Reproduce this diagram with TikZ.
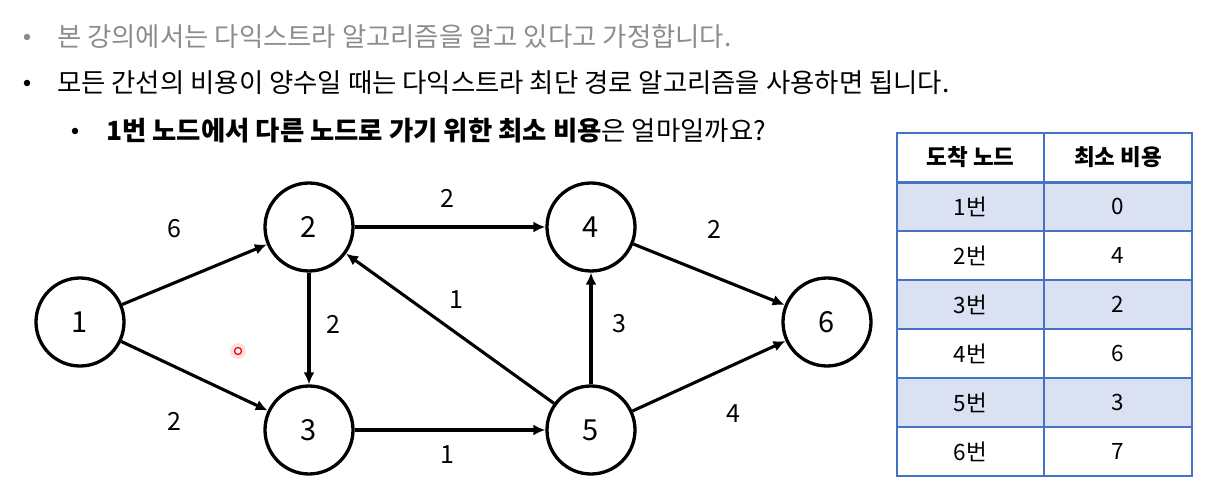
\documentclass[tikz,border=0pt]{standalone}
\usepackage{fontspec}
\setmainfont{Noto Sans CJK KR}
\usepackage{xcolor}
\definecolor{greytxt}{RGB}{140,140,140}
\definecolor{tblline}{RGB}{68,114,196}
\definecolor{rowblue}{RGB}{217,225,242}
\usepackage{tikz}
\usetikzlibrary{arrows.meta,positioning}

\begin{document}
\begin{tikzpicture}[x=1pt, y=-1pt,
  vtx/.style={circle, draw=black, line width=3.3pt, minimum size=88pt, inner sep=0pt,
              font=\fontsize{29}{31}\selectfont},
  arr/.style={-{Latex[length=12pt, width=11pt]}, line width=3.1pt},
  wgt/.style={font=\fontsize{25}{28}\selectfont},
  txt/.style={anchor=west, inner sep=0pt, font=\fontsize{26.4}{30}\selectfont},
  dot/.style={circle, fill=#1, inner sep=0pt, minimum size=6.5pt},
  cell/.style={rectangle, draw=tblline, line width=1.5pt, minimum height=49pt,
               inner sep=0pt, font=\fontsize{22.5}{25}\selectfont},
  cola/.style={cell, minimum width=147pt},
  colb/.style={cell, minimum width=148pt}
]
\useasboundingbox (0,0) rectangle (1208,494);

%% bullet text
\node[dot=greytxt] (b1) at (27,37) {};
\node[txt, text=greytxt] (t1) at (57,37) {본 강의에서는 다익스트라 알고리즘을 알고 있다고 가정합니다.};
\node[dot=black] (b2) at (27,83) {};
\node[txt] (t2) at (57,83) {모든 간선의 비용이 양수일 때는 다익스트라 최단 경로 알고리즘을 사용하면 됩니다.};
\node[dot=black] (b3) at (75,131) {};
\node[txt] (t3) at (106,131) {\textbf{1번 노드에서 다른 노드로 가기 위한 최소 비용}은 얼마일까요?};

%% graph
\node[vtx] (n1) at (80,322)  {1};
\node[vtx] (n2) at (309,227) {2};
\node[vtx] (n3) at (309,430) {3};
\node[vtx] (n4) at (591,227) {4};
\node[vtx] (n5) at (591,430) {5};
\node[vtx] (n6) at (827,322) {6};

\draw[arr] (n1) -- (n2);
\draw[arr] (n1) -- (n3);
\draw[arr] (n2) -- (n4);
\draw[arr] (n2) -- (n3);
\draw[arr] (n3) -- (n5);
\draw[arr] (n5) -- (n2);
\draw[arr] (n5) -- (n4);
\draw[arr] (n4) -- (n6);
\draw[arr] (n5) -- (n6);

\node[wgt] (w12) at (174,229) {6};
\node[wgt] (w13) at (174,421) {2};
\node[wgt] (w24) at (447,198) {2};
\node[wgt] (w23) at (333,324) {2};
\node[wgt] (w52) at (456,300) {1};
\node[wgt] (w54) at (619,324) {3};
\node[wgt] (w46) at (714,229) {2};
\node[wgt] (w35) at (447,455) {1};
\node[wgt] (w56) at (733,414) {4};

%% pointer
\fill[red!12] (238,351) circle (8);
\node[circle, draw=red, line width=1.3pt, fill=white, inner sep=0pt, minimum size=7pt] (ptr) at (238,351) {};

%% table
\node[cola, fill=white] (h1) at (970.5,157.5) {\textbf{도착 노드}};
\node[colb, fill=white] (h2) at (1118,157.5)  {\textbf{최소 비용}};
\foreach \i/\c/\f in {1/0/rowblue, 2/4/white, 3/2/rowblue, 4/6/white, 5/3/rowblue, 6/7/white} {
  \node[cola, fill=\f] (r\i a) at (970.5,157.5+49*\i) {\i{}번};
  \node[colb, fill=\f] (r\i b) at (1118,157.5+49*\i)  {\c};
}
\draw[tblline, line width=3pt] (h1.south west) -- (h2.south east);
\end{tikzpicture}
\end{document}
